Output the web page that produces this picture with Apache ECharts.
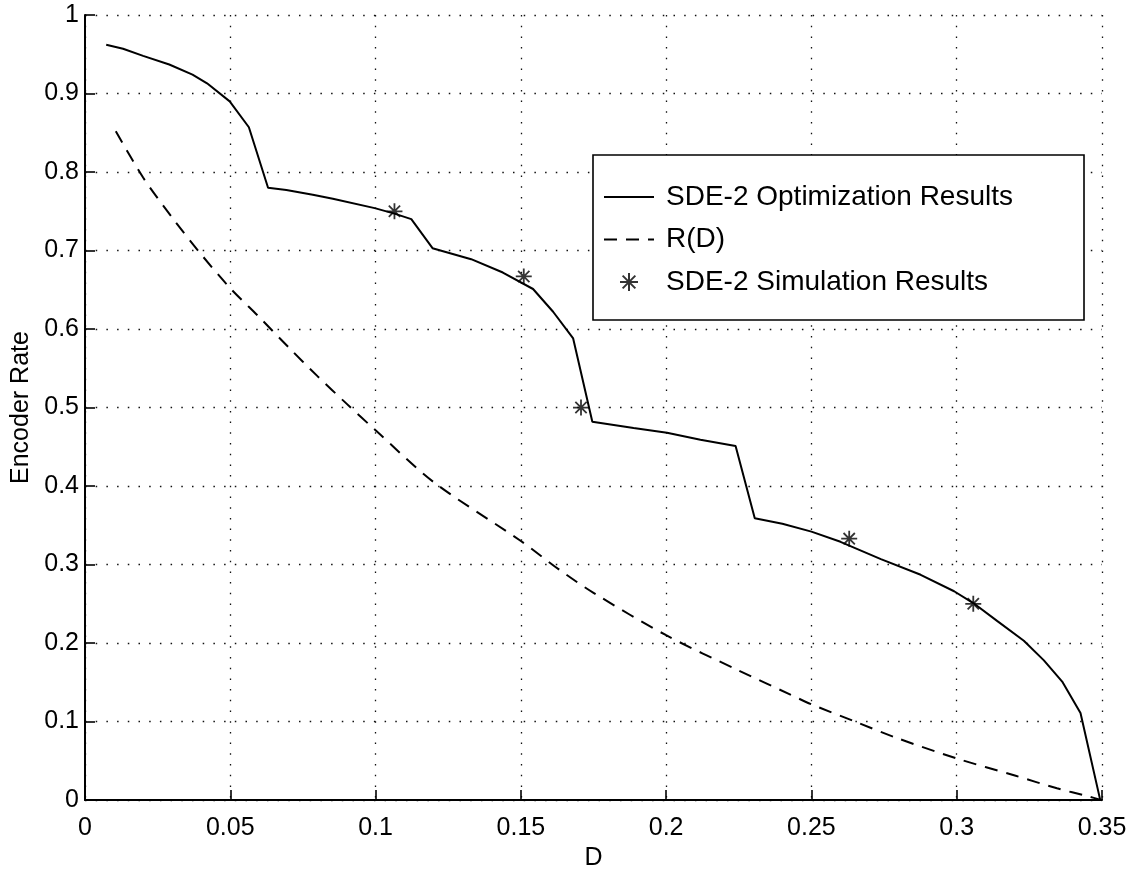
<!DOCTYPE html>
<html>
<head>
<meta charset="utf-8">
<title>Encoder Rate vs D</title>
<script src="https://cdn.jsdelivr.net/npm/echarts@6/dist/echarts.min.js"></script>
<style>
  html, body { margin: 0; padding: 0; background: #fff; }
  #chart { width: 1142px; height: 876px; }
</style>
</head>
<body>
<div id="chart"></div>
<script>
// SDE-2 optimization curve (distortion D, encoder rate)
const optD = [0.0073, 0.0131, 0.020, 0.029, 0.037, 0.042, 0.0498, 0.0564, 0.063, 0.0693,
  0.0784, 0.0853, 0.0997, 0.1065, 0.1123, 0.1196, 0.1329, 0.1438, 0.1542, 0.1611,
  0.168, 0.1746, 0.1888, 0.2003, 0.2118, 0.2239, 0.2305, 0.240, 0.250, 0.260,
  0.2739, 0.2876, 0.2991, 0.3057, 0.314, 0.3231, 0.330, 0.3363, 0.3426, 0.3494];
const optRate = [0.962, 0.957, 0.948, 0.937, 0.924, 0.913, 0.890, 0.857, 0.780, 0.777,
  0.771, 0.766, 0.754, 0.747, 0.740, 0.703, 0.689, 0.672, 0.651, 0.622,
  0.588, 0.482, 0.474, 0.468, 0.459, 0.451, 0.359, 0.352, 0.342, 0.329,
  0.307, 0.287, 0.266, 0.251, 0.228, 0.203, 0.178, 0.151, 0.111, 0.0];

// Rate-distortion function R(D)
const rdD = [0.0106, 0.02, 0.03, 0.04, 0.05, 0.06, 0.07, 0.08, 0.09, 0.10,
  0.12, 0.15, 0.1634, 0.175, 0.20, 0.225, 0.2424, 0.25, 0.265, 0.2787,
  0.30, 0.3203, 0.3345, 0.345, 0.35];
const rdRate = [0.852, 0.793, 0.742, 0.695, 0.652, 0.615, 0.577, 0.540, 0.505, 0.471,
  0.405, 0.330, 0.293, 0.264, 0.210, 0.165, 0.135, 0.122, 0.100, 0.080,
  0.053, 0.031, 0.015, 0.005, 0.0];

// SDE-2 simulation points
const simD = [0.1065, 0.151, 0.1707, 0.263, 0.3057];
const simRate = [0.75, 0.667, 0.5, 0.333, 0.25];

const xTickLabels = ['0', '0.05', '0.1', '0.15', '0.2', '0.25', '0.3', '0.35'];
const yTickLabels = ['0', '0.1', '0.2', '0.3', '0.4', '0.5', '0.6', '0.7', '0.8', '0.9', '1'];

const seriesNames = ['SDE-2 Optimization Results', 'R(D)', 'SDE-2 Simulation Results'];

const zip = (a, b) => a.map((v, i) => [v, b[i]]);
const FONT = '"Liberation Sans", Arial, Helvetica, sans-serif';
const INK = '#000';

// eight-armed asterisk marker
const ASTERISK = 'path://M0,-10L0,10M-10,0L10,0M-7.07,-7.07L7.07,7.07M-7.07,7.07L7.07,-7.07';

const dotted = { color: '#111', width: 1.3, type: [1.5, 9.2] };

const chart = echarts.init(document.getElementById('chart'), null, { renderer: 'canvas' });

chart.setOption({
  backgroundColor: '#fff',
  animation: false,
  grid: { left: 85, top: 15, right: 40, bottom: 65, containLabel: false },
  xAxis: {
    type: 'value',
    min: 0, max: 0.35, interval: 0.05,
    name: 'D',
    nameLocation: 'middle',
    nameGap: 38,
    nameTextStyle: { fontFamily: FONT, fontSize: 25, color: INK },
    axisLine: { show: true, onZero: false, lineStyle: { color: INK, width: 2 } },
    axisTick: { show: true, inside: true, length: 10, lineStyle: { color: INK, width: 1.6 } },
    axisLabel: {
      show: true, margin: 16, fontFamily: FONT, fontSize: 25, color: INK,
      formatter: v => xTickLabels[Math.round(v / 0.05)]
    },
    splitLine: { show: true, lineStyle: dotted }
  },
  yAxis: {
    type: 'value',
    min: 0, max: 1, interval: 0.1,
    name: 'Encoder Rate',
    nameLocation: 'middle',
    nameGap: 50,
    nameRotate: 90,
    nameTextStyle: { fontFamily: FONT, fontSize: 25, color: INK },
    axisLine: { show: true, onZero: false, lineStyle: { color: INK, width: 2 } },
    axisTick: { show: true, inside: true, length: 10, lineStyle: { color: INK, width: 1.6 } },
    axisLabel: {
      show: true, margin: 6, fontFamily: FONT, fontSize: 25, color: INK,
      formatter: v => yTickLabels[Math.round(v / 0.1)]
    },
    splitLine: { show: true, lineStyle: dotted }
  },
  legend: {
    orient: 'vertical',
    left: 593,
    top: 155,
    padding: [27, 71, 23, 10],
    itemGap: 12.5,
    itemWidth: 50,
    itemHeight: 18,
    backgroundColor: '#fff',
    borderColor: INK,
    borderWidth: 1.6,
    borderRadius: 0,
    textStyle: { fontFamily: FONT, fontSize: 28, color: INK, lineHeight: 30, padding: [0, 0, 0, 7] },
    data: [
      { name: seriesNames[0], itemStyle: { opacity: 0 } },
      { name: seriesNames[1], itemStyle: { opacity: 0 } },
      { name: seriesNames[2] }
    ]
  },
  series: [
    {
      name: seriesNames[0],
      type: 'line',
      data: zip(optD, optRate),
      symbol: 'none',
      showSymbol: false,
      lineStyle: { color: INK, width: 2, type: 'solid' },
      itemStyle: { color: INK },
      z: 3
    },
    {
      name: seriesNames[1],
      type: 'line',
      data: zip(rdD, rdRate),
      symbol: 'none',
      showSymbol: false,
      smooth: 0.3,
      lineStyle: { color: INK, width: 2, type: [13, 9] },
      itemStyle: { color: INK },
      z: 2
    },
    {
      name: seriesNames[2],
      type: 'scatter',
      data: zip(simD, simRate),
      symbol: ASTERISK,
      symbolSize: 16,
      itemStyle: { color: 'none', borderColor: INK, borderWidth: 1.8 },
      z: 4
    }
  ]
});
</script>
</body>
</html>
